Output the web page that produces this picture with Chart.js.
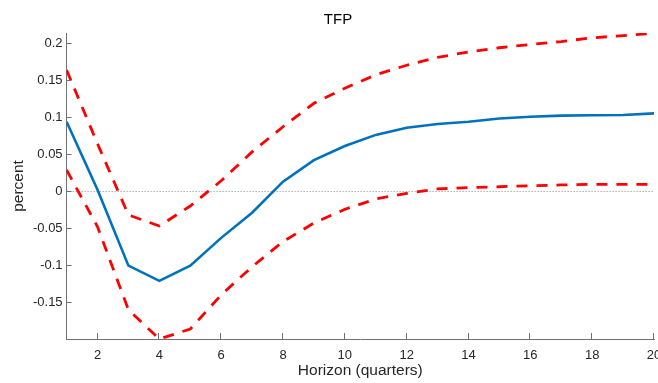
<!DOCTYPE html>
<html>
<head>
<meta charset="utf-8">
<script src="https://cdn.jsdelivr.net/npm/chart.js@4.4.1/dist/chart.umd.min.js"></script>
<style>
  html, body { margin: 0; padding: 0; background: #fff; }
</style>
</head>
<body>
<canvas id="tfpChart" width="658" height="383"></canvas>
<script>
// TFP impulse response
var horizon   = [1, 2, 3, 4, 5, 6, 7, 8, 9, 10, 11, 12, 13, 14, 15, 16, 17, 18, 19, 20];
var irfMedian = [0.0937, 0.002, -0.1005, -0.121, -0.1005, -0.063, -0.029, 0.0128, 0.042, 0.061,
                 0.076, 0.0857, 0.0906, 0.0937, 0.098, 0.1005, 0.102, 0.1024, 0.1028, 0.105];
var bandUpper = [0.1635, 0.064, -0.032, -0.047, -0.020, 0.014, 0.053, 0.087, 0.1186, 0.139,
                 0.157, 0.170, 0.1806, 0.188, 0.1936, 0.198, 0.202, 0.207, 0.210, 0.213];
var bandLower = [0.0286, -0.048, -0.160, -0.1995, -0.186, -0.140, -0.102, -0.068, -0.043, -0.0245,
                 -0.0105, -0.003, 0.003, 0.005, 0.006, 0.0074, 0.0084, 0.0093, 0.0093, 0.0093];
var xTicks = [2, 4, 6, 8, 10, 12, 14, 16, 18, 20];
var yTicks = [-0.15, -0.1, -0.05, 0, 0.05, 0.1, 0.15, 0.2];
var yMin = -0.1995, yMax = 0.2135;
var zeroLevel = 0;

var axisColor = '#707070';
var textColor = '#262626';
var fontFamily = '"Liberation Sans", Arial, Helvetica, sans-serif';

function toPoints(arr) {
  return horizon.map(function (h, i) { return { x: h, y: arr[i] }; });
}

// dotted zero line and MATLAB style inward ticks
var axisExtras = {
  id: 'axisExtras',
  beforeDatasetsDraw: function (chart) {
    var ctx = chart.ctx, a = chart.chartArea;
    var y0 = Math.round(chart.scales.y.getPixelForValue(zeroLevel)) + 0.5;
    ctx.save();
    ctx.strokeStyle = '#8a8a8a';
    ctx.lineWidth = 1;
    ctx.setLineDash([1, 2]);
    ctx.beginPath();
    ctx.moveTo(a.left, y0);
    ctx.lineTo(a.right, y0);
    ctx.stroke();
    ctx.restore();
  },
  afterDatasetsDraw: function (chart) {
    var ctx = chart.ctx, a = chart.chartArea;
    var xs = chart.scales.x, ys = chart.scales.y;
    ctx.save();
    ctx.strokeStyle = axisColor;
    ctx.lineWidth = 1;
    ctx.beginPath();
    xTicks.forEach(function (t) {
      var px = Math.round(xs.getPixelForValue(t)) - 0.5;
      ctx.moveTo(px, a.bottom);
      ctx.lineTo(px, a.bottom - 6);
    });
    yTicks.forEach(function (t) {
      var py = Math.round(ys.getPixelForValue(t)) + 0.5;
      ctx.moveTo(a.left, py);
      ctx.lineTo(a.left + 5, py);
    });
    ctx.stroke();
    ctx.restore();
  }
};

var ctx = document.getElementById('tfpChart').getContext('2d');

var tfpChart = new Chart(ctx, {
  type: 'line',
  data: {
    datasets: [
      {
        label: 'median',
        data: toPoints(irfMedian),
        borderColor: '#0072BD',
        borderWidth: 2.6,
        pointRadius: 0,
        tension: 0
      },
      {
        label: 'upper',
        data: toPoints(bandUpper),
        borderColor: '#FF0000',
        borderWidth: 2.8,
        borderDash: [11, 9],
        pointRadius: 0,
        tension: 0
      },
      {
        label: 'lower',
        data: toPoints(bandLower),
        borderColor: '#FF0000',
        borderWidth: 2.8,
        borderDash: [11, 9],
        pointRadius: 0,
        tension: 0
      }
    ]
  },
  options: {
    responsive: false,
    animation: false,
    devicePixelRatio: 1,
    layout: { padding: { left: 22, right: 4, top: 0, bottom: 0 } },
    plugins: {
      legend: { display: false },
      tooltip: { enabled: false },
      title: {
        display: true,
        text: 'TFP',
        color: '#000',
        font: { family: fontFamily, size: 15, weight: 'normal', lineHeight: 1.2 },
        padding: { top: 11, bottom: 4 }
      }
    },
    scales: {
      x: {
        type: 'linear',
        min: 1,
        max: 20,
        grid: { display: false, drawTicks: false },
        border: { display: true, color: axisColor, width: 1 },
        afterBuildTicks: function (scale) {
          scale.ticks = xTicks.map(function (v) { return { value: v }; });
        },
        afterFit: function (scale) {
          scale.height = 44;
          scale.paddingLeft = 0;
          scale.paddingRight = 0;
        },
        ticks: {
          padding: 9,
          maxRotation: 0,
          color: textColor,
          font: { family: fontFamily, size: 13 },
          callback: function (v) { return String(v); }
        },
        title: {
          display: true,
          text: 'Horizon (quarters)',
          color: textColor,
          font: { family: fontFamily, size: 15.5, lineHeight: 1 },
          padding: { top: 0, bottom: 4.5 }
        }
      },
      y: {
        type: 'linear',
        min: yMin,
        max: yMax,
        grid: { display: false, drawTicks: false },
        border: { display: true, color: axisColor, width: 1 },
        afterBuildTicks: function (scale) {
          scale.ticks = yTicks.map(function (v) { return { value: v }; });
        },
        afterFit: function (scale) {
          scale.width = 44.6;
          scale.paddingTop = 0;
          scale.paddingBottom = 0;
        },
        ticks: {
          padding: 4,
          color: textColor,
          font: { family: fontFamily, size: 13 },
          callback: function (v) { return String(v); }
        },
        title: {
          display: true,
          text: 'percent',
          color: textColor,
          font: { family: fontFamily, size: 15.5, lineHeight: 1 },
          padding: { top: -10.75, bottom: 0 }
        }
      }
    }
  },
  plugins: [axisExtras]
});
</script>
</body>
</html>
